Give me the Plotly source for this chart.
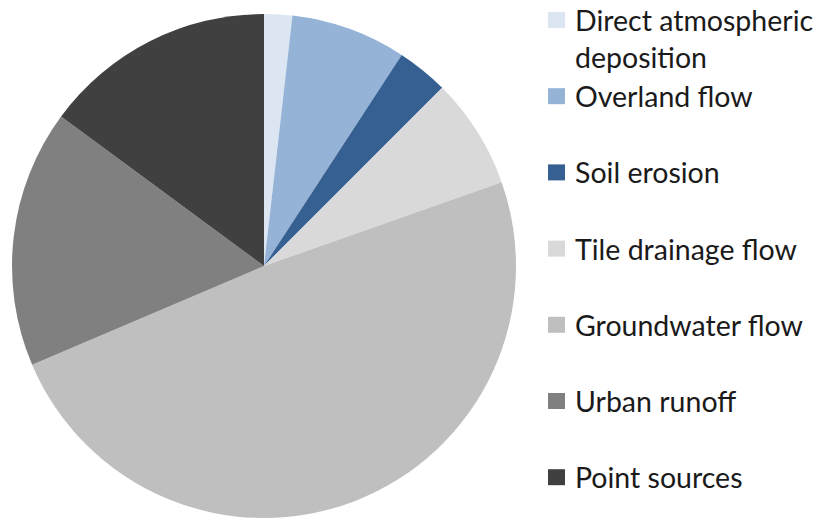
import plotly.graph_objects as go

# Share of load by source (%)
sources = [
    "Direct atmospheric deposition",
    "Overland flow",
    "Soil erosion",
    "Tile drainage flow",
    "Groundwater flow",
    "Urban runoff",
    "Point sources",
]
legend_text = [
    "Direct atmospheric<br>deposition",
    "Overland flow",
    "Soil erosion",
    "Tile drainage flow",
    "Groundwater flow",
    "Urban runoff",
    "Point sources",
]
shares = [1.8, 7.4, 3.3, 7.1, 49.0, 16.5, 14.9]
colors = ["#dce6f2", "#95b3d7", "#376092", "#d9d9d9", "#bfbfbf", "#808080", "#404040"]

W, H = 819, 521
cx, cy, r = 264, 266, 252

fig = go.Figure(
    go.Pie(
        labels=sources,
        values=shares,
        sort=False,
        direction="clockwise",
        rotation=0,
        marker=dict(colors=colors, line=dict(width=0)),
        textinfo="none",
        hoverinfo="label+percent",
        showlegend=False,
        domain=dict(
            x=[(cx - r) / W, (cx + r) / W],
            y=[(H - cy - r) / H, (H - cy + r) / H],
        ),
    )
)

# Legend drawn as swatches plus text labels on the right
font = dict(family="Lato, Open Sans, sans-serif", size=28.5, color="#1a1a1a")
first_y, step = 20, 76.2
line_gap = 38
shapes, annotations = [], []
for i, (txt, col) in enumerate(zip(legend_text, colors)):
    y = first_y + i * step
    shapes.append(dict(
        type="rect", xref="paper", yref="paper",
        x0=548 / W, x1=565 / W,
        y0=(H - (y - 8)) / H, y1=(H - (y + 8)) / H,
        fillcolor=col, line=dict(width=0),
    ))
    n_lines = txt.count("<br>") + 1
    y_mid = y + (n_lines - 1) * line_gap / 2
    annotations.append(dict(
        x=573 / W, y=(H - y_mid) / H, xref="paper", yref="paper",
        xanchor="left", yanchor="middle", align="left", showarrow=False,
        text=txt, font=font,
    ))

fig.update_layout(
    width=W, height=H,
    margin=dict(l=0, r=0, t=0, b=0),
    paper_bgcolor="white",
    plot_bgcolor="white",
    shapes=shapes,
    annotations=annotations,
)

fig.write_html("out.html")
